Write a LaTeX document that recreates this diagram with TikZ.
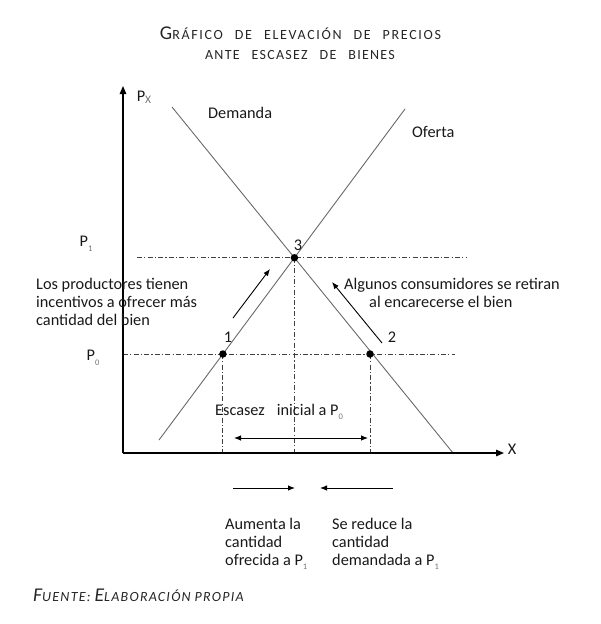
\documentclass[tikz,border=0pt]{standalone}
\usepackage{fontspec}
\setmainfont{Carlito}
\newfontfamily\titlefont[LetterSpace=9]{Carlito}
\newfontfamily\titlefontwide[LetterSpace=12]{Carlito}
\usetikzlibrary{arrows.meta}
\newcommand\mysub[1]{\raisebox{-0.28em}{\fontsize{8.5}{8.5}\selectfont\color{black!55}#1}}
\newcommand\capbig[1]{{\fontsize{19.5}{19.5}\selectfont #1}}
\newcommand\capsml[1]{{\fontsize{14}{14}\selectfont #1}}
\definecolor{curvegray}{RGB}{105,105,105}
\definecolor{txt}{RGB}{25,25,25}
\tikzset{
  axisline/.style={draw=black,line width=1.3pt,-{Triangle[length=8pt,width=6.5pt]}},
  curveline/.style={draw=curvegray,line width=0.9pt},
  guideline/.style={draw=black!75,line width=0.9pt,dash pattern=on 5pt off 2.2pt on 1.2pt off 2.2pt},
  dotpt/.style={circle,fill=black,inner sep=0pt,minimum size=7.5pt},
  movearrow/.style={draw=black,line width=0.9pt,-{Latex[length=7pt,width=5.5pt]}},
  dblarrow/.style={draw=black,line width=0.9pt,{Latex[length=7pt,width=5.5pt]}-{Latex[length=7pt,width=5.5pt]}},
  lbl/.style={text=txt,font=\fontsize{16.3}{18}\selectfont,inner sep=0pt},
  titletxt/.style={text=black!85,inner sep=0pt,font=\titlefont},
}
\begin{document}
\begin{tikzpicture}[x=1pt,y=-1pt]
\useasboundingbox (0,0) rectangle (600,624);
% key coordinates
\coordinate (O) at (123,453);
\coordinate (Ytop) at (123,86);
\coordinate (Xend) at (504,453);
\coordinate (D1) at (172,107);
\coordinate (D2) at (453,453);
\coordinate (S1) at (159,440);
\coordinate (S2) at (405,109);
\coordinate (E3) at (intersection of D1--D2 and S1--S2);
\coordinate (E1) at (222.9,354);
\coordinate (E2) at (370,354);
\coordinate (P1L) at (137,0 |- E3);
\coordinate (P1R) at (467,0 |- E3);
\coordinate (P0L) at (123,354);
\coordinate (P0R) at (455,354);
\coordinate (F1) at (E1 |- O);
\coordinate (F3) at (E3 |- O);
\coordinate (F2) at (E2 |- O);
\coordinate (EsL) at (234,438);
\coordinate (EsR) at (368,438);
\coordinate (A1s) at (233,318);
\coordinate (A1e) at (270,269);
\coordinate (A2s) at (382,343);
\coordinate (A2e) at (332,282);
\coordinate (B1s) at (233,488);
\coordinate (B1e) at (295,488);
\coordinate (B2s) at (393,488);
\coordinate (B2e) at (320,488);

% title
\node[titletxt,font=\titlefontwide] (title1) at (300.5,33) {\capbig{G}\capsml{RÁFICO}\hspace{12pt}\capsml{DE}\hspace{12pt}\capsml{ELEVACIÓN}\hspace{12pt}\capsml{DE}\hspace{12pt}\capsml{PRECIOS}};
\node[titletxt] (title2) at (300,55) {\capsml{ANTE}\hspace{12pt}\capsml{ESCASEZ}\hspace{12pt}\capsml{DE}\hspace{12pt}\capsml{BIENES}};

% guides
\draw[guideline] (P1L) -- (P1R);
\draw[guideline] (P0L) -- (P0R);
\draw[guideline] (E1) -- (F1);
\draw[guideline] (E3) -- (F3);
\draw[guideline] (E2) -- (F2);

% curves
\draw[curveline] (D1) -- (D2);
\draw[curveline] (S1) -- (S2);

% axes
\draw[axisline] (O) -- (Ytop);
\draw[axisline] (O) -- (Xend);

% points
\node[dotpt] (pt1) at (E1) {};
\node[dotpt] (pt2) at (E2) {};
\node[dotpt] (pt3) at (E3) {};

% arrows
\draw[movearrow] (A1s) -- (A1e);
\draw[movearrow] (A2s) -- (A2e);
\draw[dblarrow] (EsL) -- (EsR);
\draw[movearrow] (B1s) -- (B1e);
\draw[movearrow] (B2s) -- (B2e);

% labels
\node[lbl] (px) at (144,97) {P\raisebox{-0.15em}{\fontsize{11.5}{11.5}\selectfont\color{black!55}X}};
\node[lbl] (xl) at (512,449) {X};
\node[lbl] (p1) at (86,244) {P\mysub{1}};
\node[lbl] (p0) at (93,358) {P\mysub{0}};
\node[lbl] (n3) at (298,245) {3};
\node[lbl] (n1) at (228,337) {1};
\node[lbl] (n2) at (392,337) {2};
\node[lbl,anchor=west] (dem) at (208,113) {Demanda};
\node[lbl,anchor=west] (ofe) at (412,132) {Oferta};
\node[lbl,anchor=west,align=left] (prod) at (36,302) {Los productores tienen\\incentivos a ofrecer más\\cantidad del bien};
\node[lbl,anchor=west,align=left] (cons) at (344,292.5) {Algunos consumidores se retiran\\\hspace*{25pt}al encarecerse el bien};
\node[lbl,anchor=west] (esc) at (215,412) {Escasez\hspace{12pt}inicial a P\mysub{0}};
\node[lbl,anchor=west,align=left] (aum) at (225,544) {Aumenta la\\cantidad\\ofrecida a P\mysub{1}};
\node[lbl,anchor=west,align=left] (red) at (332,544) {Se reduce la\\cantidad\\demandada a P\mysub{1}};
\node[titletxt,anchor=west,font=\titlefont\itshape] (fuente) at (33,595) {\capbig{F}\capsml{UENTE:}\hspace{4pt}\capbig{E}\capsml{LABORACIÓN}\hspace{4pt}\capsml{PROPIA}};
\end{tikzpicture}
\end{document}
